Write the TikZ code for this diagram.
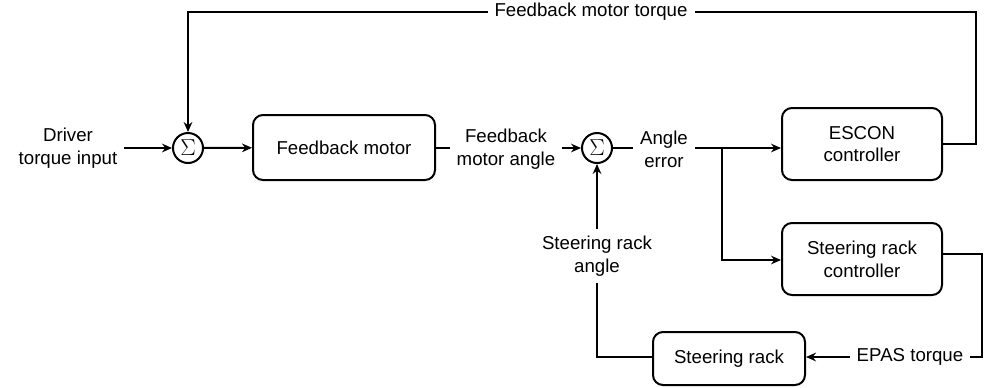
\documentclass[tikz,border=0pt]{standalone}
\usepackage{fontspec}
\setmainfont{Liberation Sans}
\usepackage{tikz}
\usetikzlibrary{arrows.meta, positioning, calc}

\begin{document}
\begin{tikzpicture}[x=0.75pt, y=-0.75pt,
      >={Stealth[length=7.5pt, width=6.5pt]}, font=\fontsize{14}{17}\selectfont,
      line width=1.5pt,
      blk/.style={draw, rounded corners=7.5pt, align=center, minimum width=120pt, minimum height=54pt, inner sep=2pt},
      sumnode/.style={draw, circle, minimum size=22.5pt, inner sep=0pt, font=\fontsize{19}{19}\selectfont},
      lbl/.style={align=center, inner sep=4.5pt},
      sig/.style={->}]
    \useasboundingbox (0,0) rectangle (997,387);
    \node[lbl] (driver) at (68,148) {Driver\\torque input};
    \node[sumnode] (sumA) at (188,148) {$\Sigma$};
    \node[blk, minimum width=136.5pt, minimum height=48.75pt] (fbmotor) at (344,147.5) {Feedback motor};
    \node[lbl] (fbangle) at (506,149) {Feedback\\motor angle};
    \node[sumnode] (sumB) at (597,148) {$\Sigma$};
    \node[lbl] (angerr) at (664,149) {Angle\\error};
    \node[blk] (escon) at (862,144) {ESCON\\controller};
    \node[blk] (rackctrl) at (862,259) {Steering rack\\controller};
    \node[blk, minimum width=114pt, minimum height=39.75pt] (rack) at (729,358.5) {Steering rack};
    \node[lbl] (epas) at (910,357) {EPAS torque};
    \node[lbl] (rackangle) at (597,256) {Steering rack\\angle};
    \node[lbl] (fbtorque) at (591,12) {Feedback motor torque};
    \coordinate (split) at (722,148);
    \draw[sig] (driver) -- (sumA);
    \draw[sig] (sumA) -- (fbmotor);
    \draw (fbmotor.east) -- (fbangle.west |- fbmotor.east);
    \draw[sig] (fbangle.east |- sumB) -- (sumB);
    \draw (sumB) -- (angerr.west |- sumB);
    \draw[sig] (angerr.east |- sumB) -- (sumB -| escon.west);
    \draw[sig] (split) |- (rackctrl.west |- 0,260);
    \draw (escon.east) -- ++(33,0) |- (fbtorque.east);
    \draw[sig] (fbtorque.west) -| (sumA.north);
    \draw (rackctrl.east |- 0,254) -- (982,254) |- (epas.east);
    \draw[sig] (epas.west) -- (rack.east |- epas);
    \draw (rack.west |- epas) -| (rackangle.south);
    \draw[sig] (rackangle.north) -- (sumB.south);
  \end{tikzpicture}
\end{document}
